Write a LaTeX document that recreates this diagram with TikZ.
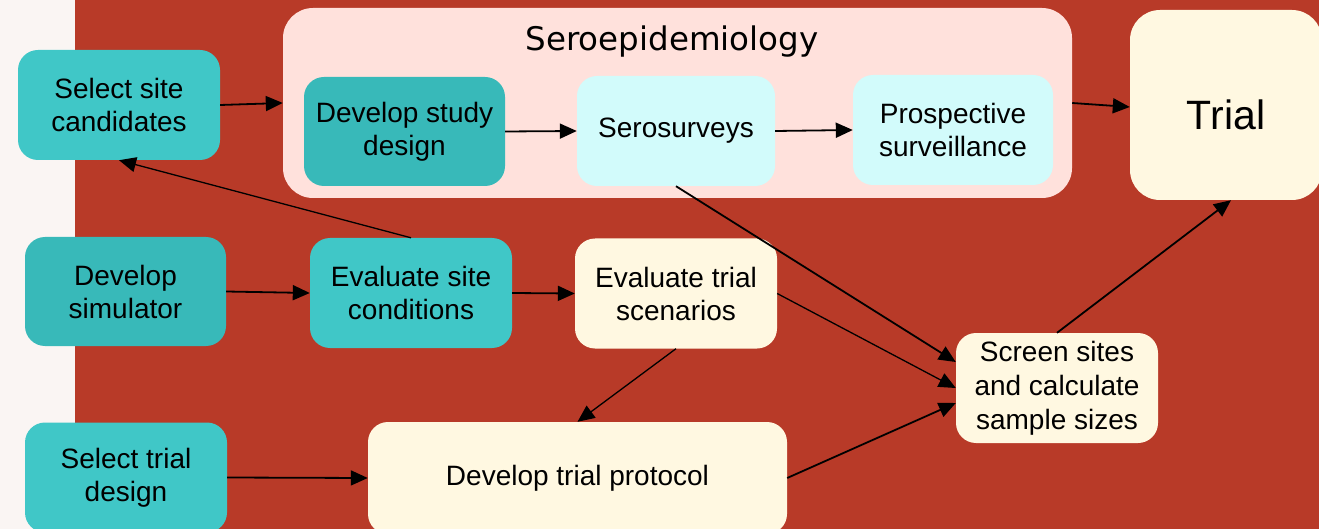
\documentclass[tikz,border=0pt]{standalone}
\usepackage{fontspec}
\setmainfont{Liberation Sans}
\newfontfamily\titlefont{DejaVu Sans}
\usetikzlibrary{arrows.meta}
\definecolor{bgred}{HTML}{B83A28}
\definecolor{strip}{HTML}{FAF5F3}
\definecolor{tealA}{HTML}{40C7C7}
\definecolor{tealB}{HTML}{38B9B9}
\definecolor{cyanL}{HTML}{D2FBFB}
\definecolor{cream}{HTML}{FFF8E1}
\definecolor{pinkL}{HTML}{FFE1DC}
\begin{document}
\begin{tikzpicture}[x=1pt,y=-1pt,
  box/.style={rounded corners=20pt, align=center, inner sep=0pt,
    minimum width=202pt, minimum height=110pt,
    font=\fontsize{28}{33}\selectfont},
  arr/.style={-{Triangle[length=17pt,width=15pt]}, line width=1.8pt},
  arrthin/.style={-{Triangle[length=17pt,width=15pt]}, line width=1.3pt}]
\useasboundingbox (0,0) rectangle (1319,529);
\clip (0,0) rectangle (1319,529);
\fill[bgred] (0,0) rectangle (1319,529);
\fill[strip] (0,0) rectangle (75,529);
% container
\node[fill=pinkL, rounded corners=30pt, minimum width=789pt, minimum height=190pt, inner sep=0pt] (sero) at (677.5,103) {};
\node[font=\titlefont\fontsize{32.5}{36}\selectfont] (serot) at (672,42) {Seroepidemiology};
% nodes
\node[box, fill=tealA] (ssc) at (119,105) {Select site\\candidates};
\node[box, fill=tealB, minimum width=201pt, minimum height=109pt] (dsd) at (404.5,131.5) {Develop study\\design};
\node[box, fill=cyanL, minimum width=198pt] (ser) at (676,131) {Serosurveys};
\node[box, fill=cyanL, minimum width=200pt] (pro) at (953,130) {Prospective\\surveillance};
\node[box, fill=cream, rounded corners=30pt, minimum width=192pt, minimum height=190pt, font=\fontsize{41}{46}\selectfont, text height=49pt, text depth=0pt] (trial) at (1226,105) {Trial};
\node[box, fill=tealB, minimum width=201pt, minimum height=109pt] (dsim) at (125.5,291.5) {Develop\\simulator};
\node[box, fill=tealA] (esc) at (411,293) {Evaluate site\\conditions};
\node[box, fill=cream] (ets) at (676,293.5) {Evaluate trial\\scenarios};
\node[box, fill=tealA] (std) at (126,477.5) {Select trial\\design};
\node[box, fill=cream, minimum width=419pt, minimum height=112pt] (dtp) at (577.5,478) {Develop trial protocol};
\node[box, fill=cream, minimum width=202pt, minimum height=110pt, font=\fontsize{28}{34}\selectfont] (scr) at (1057,388) {Screen sites\\and calculate\\sample sizes};
% arrows
\draw[arr] (ssc.east) -- (sero.west);
\draw[arr] (dsd.east) -- (ser.west);
\draw[arr] (ser.east) -- (pro.west);
\draw[arr] (sero.east) -- ([yshift=-2pt]trial.west);
\draw[arrthin] (esc.north) -- (ssc.south);
\draw[arr] (dsim.east) -- (esc.west);
\draw[arr] (esc.east) -- (ets.west);
\draw[arr] (ser.south) -- ([yshift=26pt]scr.west);
\draw[arrthin] (ets.east) -- (scr.west);
\draw[arrthin] (ets.south) -- (dtp.north);
\draw[arr] (dtp.east) -- ([yshift=-15pt]scr.west);
\draw[arr] (std.east) -- (dtp.west);
\draw[arr] (scr.north) -- ([xshift=5pt]trial.south);
\end{tikzpicture}
\end{document}
